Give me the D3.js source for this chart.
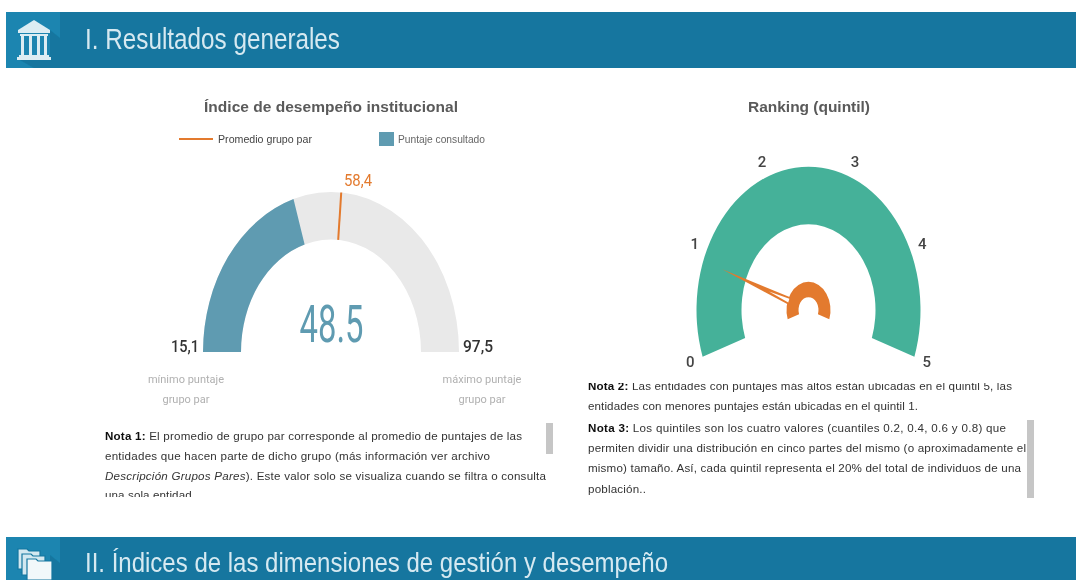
<!DOCTYPE html>
<html>
<head>
<meta charset="utf-8">
<script src="https://cdn.jsdelivr.net/npm/d3@7"></script>
<style>
  body { margin: 0; background: #fff; }
  svg { display: block; }
  text { font-family: "Liberation Sans", Arial, sans-serif; }
  .din { font-family: Roboto, sans-serif; }
</style>
</head>
<body>
<div id="chart"></div>
<script>
// values
var scoreMin = 15.1;
var scoreMax = 97.5;
var scoreValue = 48.5;
var groupAverage = 58.4;
var quintilTicks = [0, 1, 2, 3, 4, 5];
var quintilValue = 0.9;

var sectionTitles = ["I. Resultados generales", "II. Índices de las dimensiones de gestión y desempeño"];
var legendLabels = ["Promedio grupo par", "Puntaje consultado"];
var minLabels = ["mínimo puntaje", "grupo par"];
var maxLabels = ["máximo puntaje", "grupo par"];

var note1Lines = [
  [["b", "Nota 1:"], ["", " El promedio de grupo par corresponde al promedio de puntajes de las"]],
  [["", "entidades que hacen parte de dicho grupo (más información ver archivo"]],
  [["i", "Descripción Grupos Pares"], ["", "). Este valor solo se visualiza cuando se filtra o consulta"]],
  [["", "una sola entidad."]]
];
var note2Lines = [
  [["b", "Nota 2:"], ["", " Las entidades con puntajes más altos están ubicadas en el quintil 5, las"]],
  [["", "entidades con menores puntajes están ubicadas en el quintil 1."]],
  [["b", "Nota 3:"], ["", " Los quintiles son los cuatro valores (cuantiles 0.2, 0.4, 0.6 y 0.8) que"]],
  [["", "permiten dividir una distribución en cinco partes del mismo (o aproximadamente el"]],
  [["", "mismo) tamaño. Así, cada quintil representa el 20% del total de individuos de una"]],
  [["", "población.."]]
];

var blue = "#14769f", tile = "#1a85b0", teal = "#5f9bb1", grey = "#e9e9e9";
var green = "#45b199", orange = "#e37a2e", textGrey = "#5a5a5a";

var svg = d3.select("#chart").append("svg").attr("width", 1076).attr("height", 580);

// the reference is a soft, resampled screenshot
var defs = svg.append("defs");
defs.append("filter").attr("id", "soft")
  .append("feGaussianBlur").attr("stdDeviation", 0.7);
defs.append("clipPath").attr("id", "clipNote1")
  .append("rect").attr("x", 90).attr("y", 420).attr("width", 470).attr("height", 77);
defs.append("clipPath").attr("id", "clipNote2")
  .append("rect").attr("x", 580).attr("y", 383).attr("width", 450).attr("height", 120);

var root = svg.append("g").attr("filter", "url(#soft)");

// SECTION BARS //
function sectionBar(y, h, title, baseline, size, len) {
  root.append("rect").attr("x", 6).attr("y", y).attr("width", 1070).attr("height", h).attr("fill", blue);
  root.append("rect").attr("x", 6).attr("y", y).attr("width", 54).attr("height", h).attr("fill", tile);
  // long shadow cast by the icon
  root.append("path").attr("fill", blue)
    .attr("d", d3.line()([[50, y + 18], [60, y + 26], [60, y + h], [34, y + h], [20, y + h - 8], [50, y + h - 8]]) + "Z");
  root.append("text").attr("x", 85).attr("y", baseline)
    .attr("font-size", size).attr("fill", "#d6e9f1")
    .attr("textLength", len).attr("lengthAdjust", "spacingAndGlyphs").text(title);
}
sectionBar(12, 56, sectionTitles[0], 49, 29, 255);
sectionBar(537, 43, sectionTitles[1], 572, 28, 583);

// building icon
var icon = root.append("g").attr("fill", "#dcedf3");
icon.append("path").attr("d", "M34,20L50,30V33H18V30Z");
icon.append("rect").attr("x", 20).attr("y", 34).attr("width", 28).attr("height", 2);
[21, 29, 37, 44].forEach(function (x) {
  icon.append("rect").attr("x", x).attr("y", 36).attr("width", 3).attr("height", 19);
});
icon.append("rect").attr("x", 19).attr("y", 55).attr("width", 30).attr("height", 2);
icon.append("rect").attr("x", 17).attr("y", 57).attr("width", 34).attr("height", 3);

// folders icon
var pages = root.append("g");
[[18, 549, 22, 20], [22, 554, 23, 21], [27, 559, 25, 21]].forEach(function (p, i) {
  pages.append("path")
    .attr("d", "M" + p[0] + "," + (p[1] + p[3]) + "V" + p[1] + "h9l2,2h" + (p[2] - 11) + "V" + (p[1] + p[3]) + "Z")
    .attr("fill", i == 2 ? "#f2f8fa" : "#d3e8f0").attr("stroke", blue).attr("stroke-width", 1.2);
});

// SCORE GAUGE //
var scoreCx = 331, scoreCy = 352, scoreSy = 1.25, scoreOuter = 128, scoreInner = 90;

var scoreAngle = d3.scaleLinear().domain([scoreMin, scoreMax]).range([-Math.PI / 2, Math.PI / 2]);
var scoreArc = d3.arc().innerRadius(scoreInner).outerRadius(scoreOuter);

function scorePoint(value, r) {
  var p = d3.pointRadial(scoreAngle(value), r);
  return [scoreCx + p[0], scoreCy + p[1] * scoreSy];
}

var scoreG = root.append("g")
  .attr("transform", "translate(" + scoreCx + "," + scoreCy + ") scale(1," + scoreSy + ")");
scoreG.append("path").attr("fill", grey)
  .attr("d", scoreArc({ startAngle: scoreAngle(scoreMin), endAngle: scoreAngle(scoreMax) }));
scoreG.append("path").attr("fill", teal)
  .attr("d", scoreArc({ startAngle: scoreAngle(scoreMin), endAngle: scoreAngle(scoreValue) }));

var avgIn = scorePoint(groupAverage, scoreInner), avgOut = scorePoint(groupAverage, scoreOuter);
root.append("line")
  .attr("x1", avgIn[0]).attr("y1", avgIn[1]).attr("x2", avgOut[0]).attr("y2", avgOut[1])
  .attr("stroke", orange).attr("stroke-width", 2);

function fmt(v) { return d3.format(".1f")(v).replace(".", ","); }

root.append("text").attr("class", "din").attr("x", 358).attr("y", 186).attr("text-anchor", "middle")
  .attr("font-size", 16).attr("fill", orange).attr("textLength", 28).attr("lengthAdjust", "spacingAndGlyphs")
  .text(fmt(groupAverage));
root.append("text").attr("class", "din").attr("x", 199).attr("y", 352).attr("text-anchor", "end")
  .attr("font-size", 16).attr("font-weight", 500).attr("fill", "#333").attr("textLength", 28).attr("lengthAdjust", "spacingAndGlyphs")
  .text(fmt(scoreMin));
root.append("text").attr("class", "din").attr("x", 463).attr("y", 352)
  .attr("font-size", 16).attr("font-weight", 500).attr("fill", "#333").attr("textLength", 30).attr("lengthAdjust", "spacingAndGlyphs")
  .text(fmt(scoreMax));
root.append("text").attr("class", "din").attr("x", 331.5).attr("y", 342).attr("text-anchor", "middle")
  .attr("font-size", 52).attr("font-weight", 400).attr("fill", teal)
  .attr("textLength", 64).attr("lengthAdjust", "spacingAndGlyphs").text(d3.format(".1f")(scoreValue));

function subLabels(lines, cx) {
  lines.forEach(function (t, i) {
    root.append("text").attr("class", "din").attr("x", cx).attr("y", 383 + i * 20)
      .attr("text-anchor", "middle").attr("font-size", 11).attr("fill", "#b0b0b0").text(t);
  });
}
subLabels(minLabels, 186);
subLabels(maxLabels, 482);

// titles and legend
root.append("text").attr("x", 331).attr("y", 112).attr("text-anchor", "middle")
  .attr("font-size", 15.5).attr("font-weight", "bold").attr("fill", textGrey)
  .attr("textLength", 254).attr("lengthAdjust", "spacing").text("Índice de desempeño institucional");
root.append("text").attr("x", 809).attr("y", 112).attr("text-anchor", "middle")
  .attr("font-size", 15.5).attr("font-weight", "bold").attr("fill", textGrey)
  .attr("textLength", 122).attr("lengthAdjust", "spacing").text("Ranking (quintil)");

root.append("line").attr("x1", 179).attr("x2", 213).attr("y1", 139).attr("y2", 139)
  .attr("stroke", orange).attr("stroke-width", 2);
root.append("text").attr("x", 218).attr("y", 143).attr("font-size", 11.5).attr("fill", "#444")
  .attr("textLength", 94).attr("lengthAdjust", "spacingAndGlyphs").text(legendLabels[0]);
root.append("rect").attr("x", 379).attr("y", 132).attr("width", 15).attr("height", 14).attr("fill", teal);
root.append("text").attr("x", 398).attr("y", 143).attr("font-size", 11.5).attr("fill", "#666")
  .attr("textLength", 87).attr("lengthAdjust", "spacingAndGlyphs").text(legendLabels[1]);

// RANKING GAUGE //
var rankCx = 808.5, rankCy = 310, rankSy = 1.28;
var rankAngle = d3.scaleLinear().domain([0, 5]).range([-109 * Math.PI / 180, 109 * Math.PI / 180]);

var rankG = root.append("g")
  .attr("transform", "translate(" + rankCx + "," + rankCy + ") scale(1," + rankSy + ")");
rankG.append("path").attr("fill", green)
  .attr("d", d3.arc().innerRadius(67).outerRadius(112)({ startAngle: rankAngle(0), endAngle: rankAngle(5) }));
rankG.append("path").attr("fill", orange)
  .attr("d", d3.arc().innerRadius(10).outerRadius(22)({ startAngle: rankAngle(0), endAngle: rankAngle(5) }));

root.selectAll(".rankTick").data(quintilTicks).enter().append("text")
  .attr("class", "din")
  .attr("x", function (d) { return rankCx + d3.pointRadial(rankAngle(d), 125)[0]; })
  .attr("y", function (d) { return rankCy + d3.pointRadial(rankAngle(d), 125)[1] * rankSy; })
  .attr("dy", ".35em").attr("text-anchor", "middle")
  .attr("font-size", 15).attr("font-weight", 500).attr("fill", "#444")
  .text(function (d) { return d; });

// needle: thin wedge from the hub out to the value, hollow near the hub
function needlePoint(value, r, offset) {
  var a = rankAngle(value);
  var p = d3.pointRadial(a, r);
  var n = d3.pointRadial(a + Math.PI / 2, offset);
  return [rankCx + p[0] + n[0], rankCy + (p[1] + n[1]) * rankSy];
}
root.append("path").attr("fill", orange)
  .attr("d", d3.line()([
    needlePoint(quintilValue, 92, 0),
    needlePoint(quintilValue, 20, 3),
    needlePoint(quintilValue, 20, -3)
  ]) + "Z");
root.append("path").attr("fill", "#fff")
  .attr("d", d3.line()([
    needlePoint(quintilValue, 42, 0),
    needlePoint(quintilValue, 21, 1.6),
    needlePoint(quintilValue, 21, -1.6)
  ]) + "Z");

// NOTES //
function noteBlock(lines, x, ys, width, clipId) {
  var g = root.append("g").attr("clip-path", "url(#" + clipId + ")");
  lines.forEach(function (segments, i) {
    var t = g.append("text").attr("x", x).attr("y", ys[i]).attr("font-size", 11.6).attr("fill", "#333");
    if (width[i]) t.attr("textLength", width[i]).attr("lengthAdjust", "spacing");
    segments.forEach(function (s) {
      t.append("tspan")
        .attr("font-weight", s[0] == "b" ? "bold" : null)
        .attr("font-style", s[0] == "i" ? "italic" : null)
        .attr("fill", s[0] == "b" ? "#111" : null)
        .text(s[1]);
    });
  });
}
noteBlock(note1Lines, 105, [440, 460, 480, 499], [417, 385, 441, 90], "clipNote1");
noteBlock(note2Lines, 588, [390, 410, 432, 452, 472, 493], [424, 330, 418, 438, 433, 58], "clipNote2");

root.append("rect").attr("x", 546).attr("y", 423).attr("width", 7).attr("height", 31).attr("fill", "#c6c6c6");
root.append("rect").attr("x", 1027).attr("y", 420).attr("width", 7).attr("height", 78).attr("fill", "#c6c6c6");
</script>
</body>
</html>
